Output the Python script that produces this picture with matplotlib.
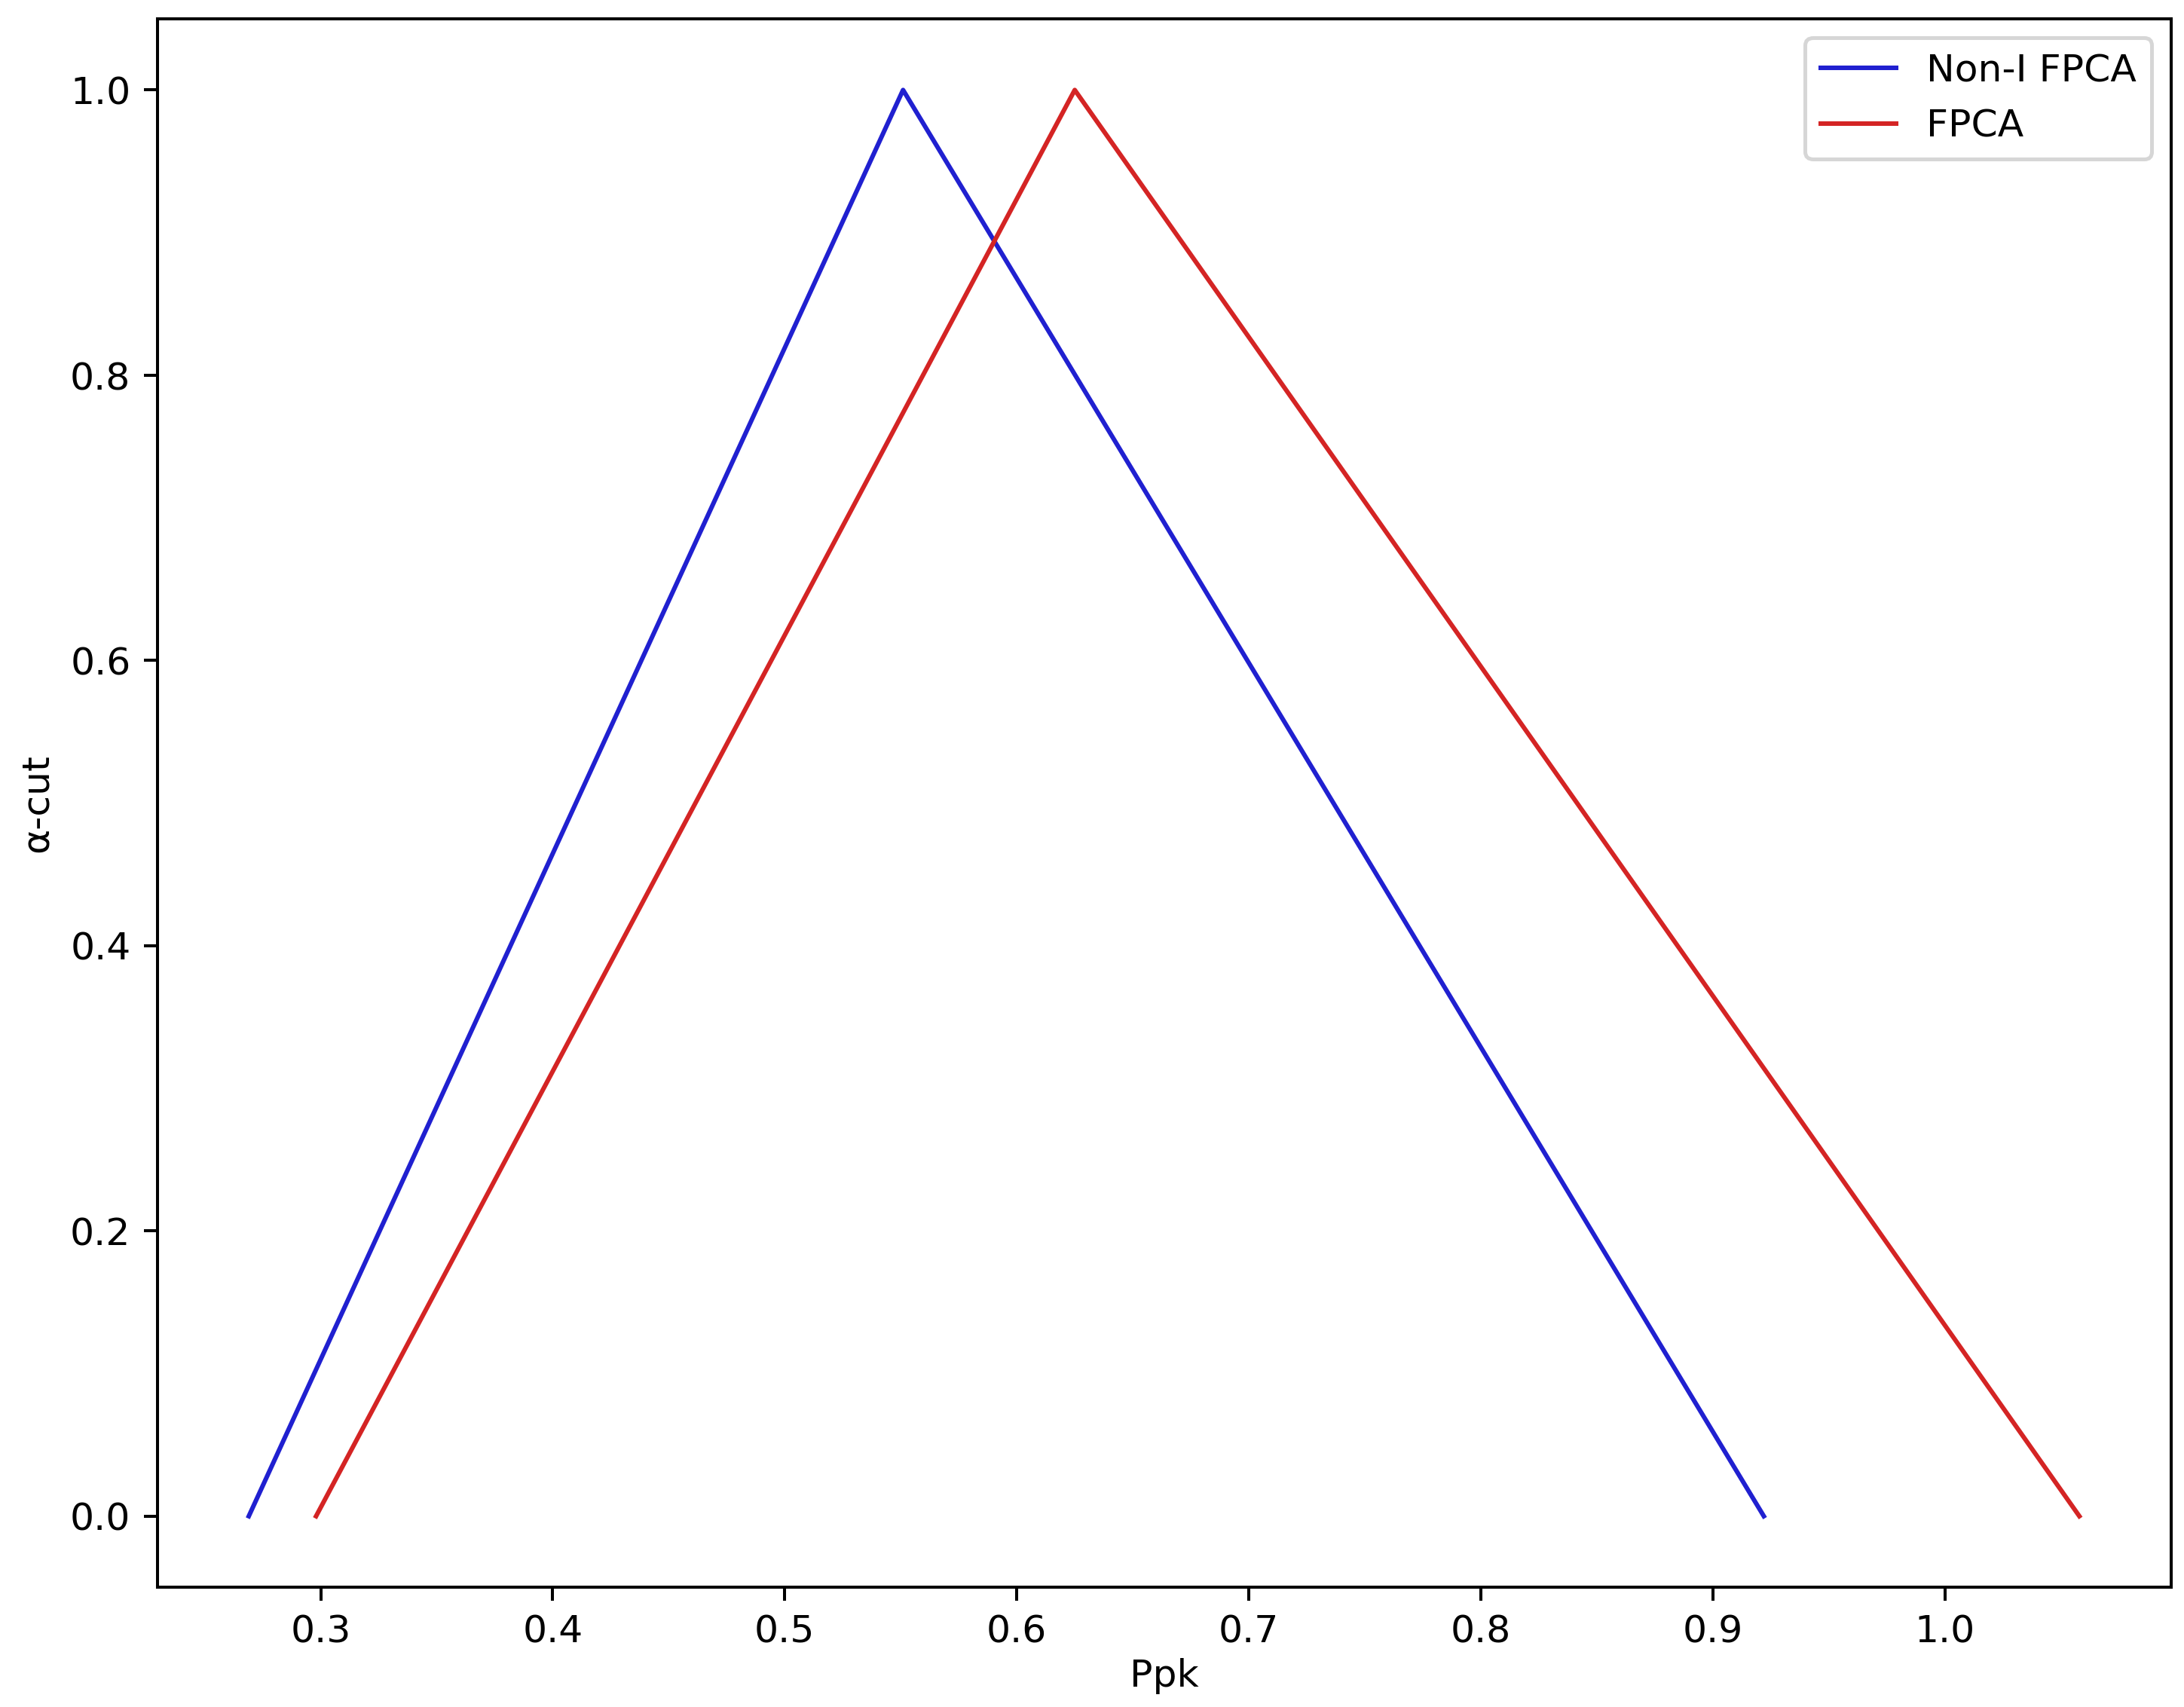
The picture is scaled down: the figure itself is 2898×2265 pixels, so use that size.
import matplotlib
matplotlib.use('Agg')
import matplotlib.pyplot as plt

# --- Data (triangular fuzzy numbers for Ppk) ---
alpha = [0.0, 1.0, 0.0]
non_i_fpca = [0.269, 0.551, 0.922]
fpca = [0.298, 0.625, 1.058]

fig, ax = plt.subplots(figsize=(8.0, 6.253), dpi=362.25)
ax.plot(non_i_fpca, alpha, color='#2020d0', linewidth=1.2, label='Non-I FPCA')
ax.plot(fpca, alpha, color='#d42424', linewidth=1.2, label='FPCA')

ax.set_xlabel('Ppk', labelpad=2)
ax.set_ylabel('α-cut', labelpad=4)
ax.legend(loc='upper right')

fig.subplots_adjust(left=0.072, right=0.994, top=0.989, bottom=0.07)
plt.savefig('out.png', dpi=362.25)
